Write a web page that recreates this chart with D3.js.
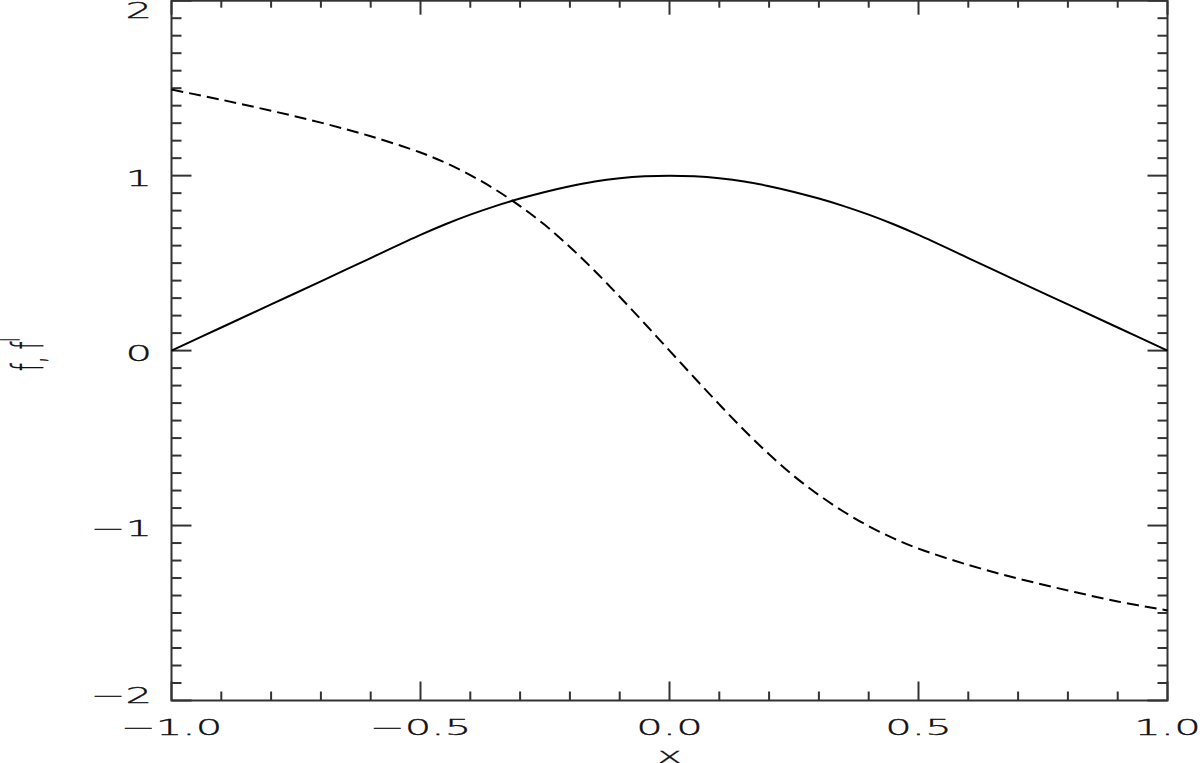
<!DOCTYPE html>
<html>
<head>
<meta charset="utf-8">
<script src="https://cdn.jsdelivr.net/npm/d3@7"></script>
<style>
  html, body { margin: 0; padding: 0; background: #fff; }
  svg { display: block; }
  text { font-family: "DejaVu Sans", sans-serif; font-weight: 200; fill: #111; stroke: #111; stroke-width: 0.35; }
</style>
</head>
<body>
<svg id="chart" width="1200" height="763"></svg>
<script>
// ---- data ----
const solidX = [-1.0,-0.9,-0.8,-0.7,-0.6,-0.5,-0.45,-0.4,-0.35,-0.3,-0.25,-0.2,-0.15,-0.1,-0.05,0.0,0.05,0.1,0.15,0.2,0.25,0.3,0.35,0.4,0.45,0.5,0.6,0.7,0.8,0.9,1.0];
const solidY = [0,0.132,0.264,0.396,0.529,0.661,0.722,0.777,0.826,0.869,0.907,0.940,0.967,0.985,0.996,1.0,0.996,0.985,0.967,0.940,0.907,0.869,0.826,0.777,0.722,0.661,0.529,0.396,0.264,0.132,0];

const dashedX = [-1.0,-0.9,-0.8,-0.7,-0.6,-0.5,-0.45,-0.4,-0.35,-0.3,-0.25,-0.2,-0.15,-0.1,-0.05,0.0,0.05,0.1,0.15,0.2,0.25,0.3,0.35,0.4,0.45,0.5,0.6,0.7,0.8,0.9,1.0];
const dashedY = [1.492,1.434,1.371,1.303,1.225,1.132,1.0735,1.0035,0.921,0.826,0.7175,0.5925,0.455,0.3075,0.155,0,-0.155,-0.3075,-0.455,-0.5925,-0.7175,-0.826,-0.921,-1.0035,-1.0735,-1.132,-1.225,-1.303,-1.371,-1.434,-1.485];

const xTickLabels = ["−1.0", "−0.5", "0.0", "0.5", "1.0"];
const xTickValues = [-1.0, -0.5, 0.0, 0.5, 1.0];
const yTickLabels = ["−2", "−1", "0", "1", "2"];
const yTickValues = [-2, -1, 0, 1, 2];
const xTitle = "x";
const yTitle = "f, f";

// ---- layout ----
const pLeft = 171.5, pRight = 1167.5, pTop = 0.7, pBottom = 700.5;
const svg = d3.select("#chart");
const x = d3.scaleLinear().domain([-1, 1]).range([pLeft, pRight]);
const y = d3.scaleLinear().domain([-2, 2]).range([pBottom, pTop]);
const SX = 1.9; // horizontal glyph stretch
const axisColor = "#333";

// frame
svg.append("rect").attr("x", pLeft).attr("y", pTop)
  .attr("width", pRight - pLeft).attr("height", pBottom - pTop)
  .attr("fill", "none").attr("stroke", axisColor).attr("stroke-width", 2);

// minor / major tick values
const xMinor = d3.range(-10, 11).map(i => i / 10);
const yMinor = d3.range(-20, 21).map(i => i / 10);
const isMajorX = v => Math.abs(v * 2 - Math.round(v * 2)) < 1e-6;
const isMajorY = v => Math.abs(v - Math.round(v)) < 1e-6;

const ticks = svg.append("g").attr("stroke", axisColor).attr("stroke-width", 2);
xMinor.forEach(v => {
  const L = isMajorX(v) ? 19 : 9;
  ticks.append("line").attr("x1", x(v)).attr("x2", x(v)).attr("y1", pBottom).attr("y2", pBottom - L);
  const T = isMajorX(v) ? 14 : 7;
  ticks.append("line").attr("x1", x(v)).attr("x2", x(v)).attr("y1", pTop).attr("y2", pTop + T);
});
yMinor.forEach(v => {
  const L = isMajorY(v) ? 20 : 10;
  ticks.append("line").attr("x1", pLeft).attr("x2", pLeft + L).attr("y1", y(v)).attr("y2", y(v));
  ticks.append("line").attr("x1", pRight).attr("x2", pRight - L).attr("y1", y(v)).attr("y2", y(v));
});

// tick labels
const fs = 22;
xTickValues.forEach((v, i) => {
  svg.append("text")
    .attr("transform", `translate(${x(v)},735) scale(${SX},1)`)
    .attr("text-anchor", "middle")
    .attr("font-size", fs)
    .text(xTickLabels[i]);
});
yTickValues.forEach((v, i) => {
  const cy = Math.min(Math.max(y(v) + 2, 10), 695);
  svg.append("text")
    .attr("transform", `translate(152,${cy + 8}) scale(${SX},1)`)
    .attr("text-anchor", "end")
    .attr("font-size", fs)
    .text(yTickLabels[i]);
});

// axis titles
svg.append("text")
  .attr("transform", `translate(${x(0)},763) scale(${SX},1)`)
  .attr("text-anchor", "middle")
  .attr("font-size", fs)
  .text(xTitle);

const yt = svg.append("text")
  .attr("transform", `translate(43,371) rotate(-90) scale(1,${SX})`)
  .attr("text-anchor", "start")
  .attr("font-size", fs);
yt.append("tspan").text(yTitle);
yt.append("tspan").attr("font-size", 10).attr("dy", -15).text("|");

// curves
const line = d3.line().x(d => x(d[0])).y(d => y(d[1])).curve(d3.curveCatmullRom.alpha(0.5));
svg.append("path")
  .datum(solidX.map((v, i) => [v, solidY[i]]))
  .attr("d", line)
  .attr("fill", "none").attr("stroke", "#000").attr("stroke-width", 2);
svg.append("path")
  .datum(dashedX.map((v, i) => [v, dashedY[i]]))
  .attr("d", line)
  .attr("fill", "none").attr("stroke", "#000").attr("stroke-width", 2)
  .attr("stroke-dasharray", "12,6");
</script>
</body>
</html>
